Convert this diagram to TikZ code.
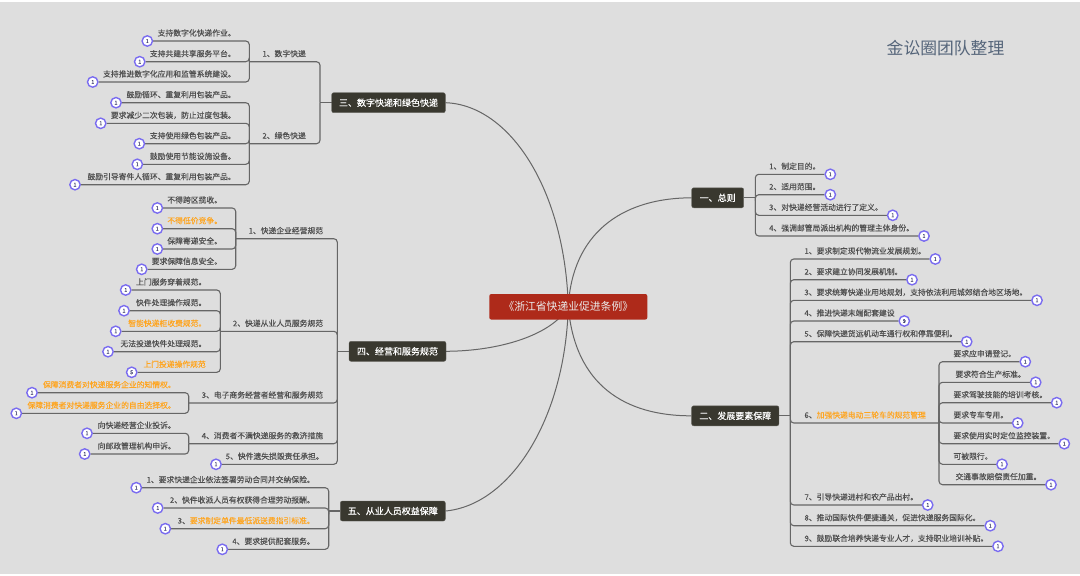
\documentclass[tikz,border=0pt]{standalone}
\usepackage{fontspec}
\setmainfont{Noto Sans CJK SC}
\newfontfamily\leaffont[FakeBold=0.2]{Noto Sans CJK SC}
\newfontfamily\headfont[FakeBold=0.5]{Noto Sans CJK SC}
\definecolor{canvasgray}{HTML}{DEDEDE}
\definecolor{linegray}{HTML}{666666}
\definecolor{leafink}{HTML}{505050}
\definecolor{hiorange}{HTML}{FFA51F}
\definecolor{branchfill}{HTML}{39382F}
\definecolor{rootred}{HTML}{AE2A1A}
\definecolor{badgeline}{HTML}{7A6CF0}
\definecolor{badgeink}{HTML}{3B3B6B}
\definecolor{titleink}{HTML}{55657A}
\pgfdeclarelayer{canvaslayer}
\pgfdeclarelayer{edgelayer}
\pgfsetlayers{canvaslayer,edgelayer,main}
\tikzset{
  conn/.style={draw=linegray,line width=1.1pt,rounded corners=3.5pt},
  hubline/.style={draw=linegray,line width=1.2pt},
  curveline/.style={draw=linegray,line width=1pt},
  badge/.style={circle,draw=badgeline,fill=white,line width=1.4pt,minimum size=10.4pt,inner sep=0pt,font=\leaffont\fontsize{5.4}{5.4}\selectfont,text=badgeink},
  leaftext/.style={inner sep=0pt,font=\leaffont\fontsize{7.8}{9}\selectfont,text=leafink,text height=7pt,text depth=1pt},
  branchbox/.style={rounded corners=2pt,fill=branchfill,draw=branchfill!80!white,line width=.4pt,text=white,font=\headfont\fontsize{9}{11}\selectfont,inner sep=0pt,minimum height=20pt},
  rootbox/.style={rounded corners=2pt,fill=rootred,text=white!92!black,font=\fontsize{10.8}{13}\selectfont,inner sep=0pt,minimum height=25.5pt,minimum width=158pt},
  titletext/.style={inner sep=0pt,font=\fontsize{16.8}{20}\selectfont,text=titleink},
}
\newcommand{\hi}[1]{\textcolor{hiorange}{#1}}
% [badge text]{name}{parent}{badge x}{line y}{text right x}{text}
\newcommand{\leafL}[7][1]{%
  \node[badge] (#2) at (#4,#5) {#1};
  \node[leaftext,anchor=east] (#2t) at ({#6+3.2},{#5-8.1}) {#7};
  \begin{pgfonlayer}{edgelayer}\draw[conn] (#3) |- (#2.east);\end{pgfonlayer}
}
% [badge text]{name}{parent}{badge x}{line y}{text left x}{text}
\newcommand{\leafR}[7][1]{%
  \node[badge] (#2) at (#4,#5) {#1};
  \node[leaftext,anchor=west] (#2t) at (#6,{#5-8.1}) {#7};
  \begin{pgfonlayer}{edgelayer}\draw[conn] (#3) |- (#2.west);\end{pgfonlayer}
}
\begin{document}
\begin{tikzpicture}[x=1pt,y=-1pt]
\useasboundingbox (0,0) rectangle (1080,576);
\begin{pgfonlayer}{canvaslayer}
  \fill[canvasgray] (0,2) rectangle (1080,574);
\end{pgfonlayer}
\node[titletext,anchor=west] (title) at (886.5,48) {金讼圈团队整理};
\node[rootbox] (root) at (568.3,306.8) {《浙江省快递业促进条例》};
\node[branchbox,minimum width=113.6pt] (s3) at (388.5,102.7) {三、数字快递和绿色快递};
\node[branchbox,minimum width=97pt] (s4) at (397.5,351.3) {四、经营和服务规范};
\node[branchbox,minimum width=105pt] (s5) at (392.8,511) {五、从业人员权益保障};
\node[branchbox,minimum width=52pt] (s1) at (717.7,197.8) {一、总则};
\node[branchbox,minimum width=87.3pt] (s2) at (735.3,415.8) {二、发展要素保障};
\begin{pgfonlayer}{edgelayer}
  \draw[curveline] (root.center) .. controls (565,190) and (510,105) .. (s3.east);
  \draw[curveline] (root.center) .. controls (552,335) and (500,351) .. (s4.east);
  \draw[curveline] (root.center) .. controls (565,420) and (510,505) .. (s5.east);
  \draw[curveline] (root.center) .. controls (572,235) and (620,198) .. (s1.west);
  \draw[curveline] (root.center) .. controls (575,385) and (625,416) .. (s2.west);
\end{pgfonlayer}
% hubs
\coordinate (h3) at (320,102.7);
\coordinate (h4) at (337.3,351.3);
\coordinate (h5) at (328.7,511);
\coordinate (h1) at (755.3,197.8);
\coordinate (h2) at (790.3,415.8);
\begin{pgfonlayer}{edgelayer}
  \draw[hubline] (s3.west) -- (h3);
  \draw[hubline] (s4.west) -- (h4);
  \draw[hubline] (s5.west) -- (h5);
  \draw[hubline] (s1.east) -- (h1);
  \draw[hubline] (s2.east) -- (h2);
\end{pgfonlayer}
% section 3
\coordinate (g31) at (249.3,61.7);
\coordinate (g32) at (249.3,143.7);
\begin{pgfonlayer}{edgelayer}
  \draw[conn] (h3) |- (g31);
  \draw[conn] (h3) |- (g32);
\end{pgfonlayer}
\node[leaftext,anchor=east] (l31) at (306,53.6) {1、数字快递};
\node[leaftext,anchor=east] (l32) at (306,135.6) {2、绿色快递};
\leafL{a1}{g31}{147.3}{41}{232.7}{支持数字化快递作业。}
\leafL{a2}{g31}{139.7}{61.7}{232.7}{支持共建共享服务平台。}
\leafL{a3}{g31}{92.7}{82}{232.7}{支持推进数字化应用和监管系统建设。}
\leafL{b1}{g32}{116}{102.7}{232.7}{鼓励循环、重复利用包装产品。}
\leafL{b2}{g32}{100.7}{123.3}{232.7}{要求减少二次包装，防止过度包装。}
\leafL{b3}{g32}{139.3}{143.7}{232.7}{支持使用绿色包装产品。}
\leafL{b4}{g32}{137.3}{164.3}{232.7}{鼓励使用节能设施设备。}
\leafL{b5}{g32}{75}{184.7}{232.7}{鼓励引导寄件人循环、重复利用包装产品。}
% section 4
\coordinate (g41) at (235.7,238.7);
\coordinate (g42) at (220.3,331.3);
\coordinate (g43) at (188.7,403);
\coordinate (g44) at (188.7,443.7);
\begin{pgfonlayer}{edgelayer}
  \draw[conn] (h4) |- (g41);
  \draw[conn] (h4) |- (g42);
  \draw[conn] (h4) |- (g43);
  \draw[conn] (h4) |- (g44);
\end{pgfonlayer}
\node[leaftext,anchor=east] (l41) at (323.3,230.6) {1、快递企业经营规范};
\node[leaftext,anchor=east] (l42) at (323.3,323.2) {2、快递从业人员服务规范};
\node[leaftext,anchor=east] (l43) at (323.3,394.9) {3、电子商务经营者经营和服务规范};
\node[leaftext,anchor=east] (l44) at (323.3,435.6) {4、消费者不满快递服务的救济措施};
\leafL{c1}{g41}{157.3}{208}{219}{不得跨区揽收。}
\leafL{c2}{g41}{157.3}{228.7}{219}{\hi{不得低价竞争。}}
\leafL{c3}{g41}{157.3}{249}{219}{保障寄递安全。}
\leafL{c4}{g41}{141.7}{269.3}{219}{要求保障信息安全。}
\leafL{d1}{g42}{125.7}{290}{203.3}{上门服务穿着规范。}
\leafL{d2}{g42}{124}{310.7}{203.3}{快件处理操作规范。}
\leafL{d3}{g42}{115.7}{331.3}{203.3}{\hi{智能快递柜收费规范。}}
\leafL{d4}{g42}{108}{351.7}{203.3}{无法投递快件处理规范。}
\leafL[5]{d5}{g42}{131.7}{372.3}{202.8}{\hi{上门投递操作规范}}
\leafL{e1}{g43}{32}{392.7}{172.7}{\hi{保障消费者对快递服务企业的知情权。}}
\leafL{e2}{g43}{16.3}{413.3}{172.7}{\hi{保障消费者对快递服务企业的自由选择权。}}
\leafL{f1}{g44}{87}{433.3}{172.7}{向快递经营企业投诉。}
\leafL{f2}{g44}{84.7}{454}{172.7}{向邮政管理机构申诉。}
\leafL{f3}{h4}{216}{464.3}{320.7}{5、快件遗失损毁责任承担。}
% section 5
\leafL{p1}{h5}{136.3}{487.7}{311.7}{1、要求快递企业依法签署劳动合同并交纳保险。}
\leafL{p2}{h5}{157.7}{508}{311.7}{2、快件收派人员有权获得合理劳动报酬。}
\leafL{p3}{h5}{165.3}{528.7}{311.7}{3、\hi{要求制定单件最低派送费指引标准。}}
\leafL{p4}{h5}{222.3}{549.3}{311.7}{4、要求提供配套服务。}
% section 1
\leafR{q1}{h1}{830.3}{174.3}{769}{1、制定目的。}
\leafR{q2}{h1}{830.3}{194.7}{769}{2、适用范围。}
\leafR{q3}{h1}{892.7}{215.3}{769}{3、对快递经营活动进行了定义。}
\leafR{q4}{h1}{924}{236}{769}{4、强调邮管局派出机构的管理主体身份。}
% section 2
\leafR{r1}{h2}{935.3}{259}{804.3}{1、要求制定现代物流业发展规划。}
\leafR{r2}{h2}{912}{279.7}{804.3}{2、要求建立协同发展机制。}
\leafR{r3}{h2}{1037}{300.3}{804.3}{3、要求统筹快递业用地规划，支持依法利用城郊结合地区场地。}
\leafR[9]{r4}{h2}{904.3}{321}{804.3}{4、推进快递末端配套建设}
\leafR{r5}{h2}{966.7}{341.7}{804.3}{5、保障快递货运机动车通行权和停靠便利。}
\coordinate (g26) at (939,423);
\begin{pgfonlayer}{edgelayer}
  \draw[conn] (h2) |- (g26);
\end{pgfonlayer}
\node[leaftext,anchor=west] (l26) at (804.3,415) {6、\hi{加强快递电动三轮车的规范管理}};
\leafR{t1}{g26}{1025.3}{361.7}{953.3}{要求应申请登记。}
\leafR{t2}{g26}{1035.7}{382.3}{955.3}{要求符合生产标准。}
\leafR{t3}{g26}{1056.7}{402.7}{953.3}{要求驾驶技能的培训考核。}
\leafR{t4}{g26}{1017.7}{423}{953.3}{要求专车专用。}
\leafR{t5}{g26}{1064.3}{443.7}{953.3}{要求使用实时定位监控装置。}
\leafR{t6}{g26}{1002}{464.3}{953.3}{可被限行。}
\leafR{t7}{g26}{1051}{484.7}{955.3}{交通事故赔偿责任加重。}
\leafR{r7}{h2}{927.7}{505}{804.3}{7、引导快递进村和农产品出村。}
\leafR{r8}{h2}{990.3}{525.7}{804.3}{8、推动国际快件便捷通关，促进快递服务国际化。}
\leafR{r9}{h2}{998}{546.3}{804.3}{9、鼓励联合培养快递专业人才，支持职业培训补贴。}
\end{tikzpicture}
\end{document}
